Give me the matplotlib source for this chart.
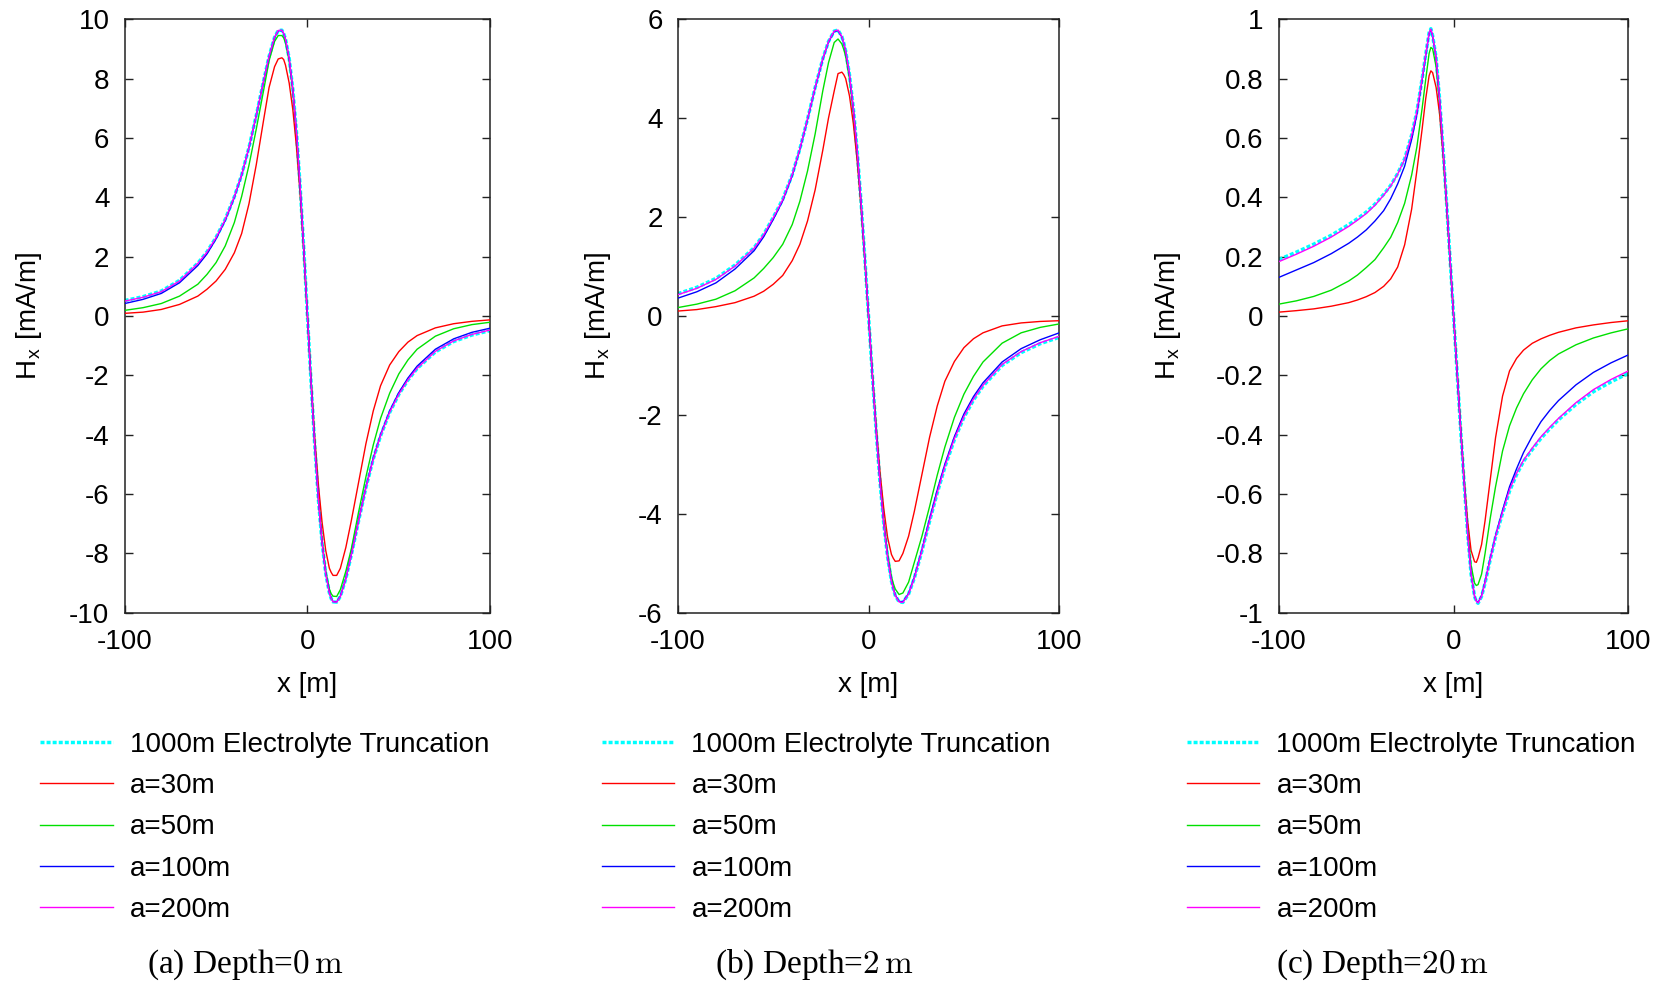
import matplotlib
matplotlib.use("Agg")
import matplotlib.pyplot as plt
from matplotlib.ticker import FixedLocator, FuncFormatter

plt.rcParams["font.family"] = ["Liberation Sans", "DejaVu Sans"]
plt.rcParams["mathtext.fontset"] = "cm"
plt.rcParams["axes.unicode_minus"] = False

# Horizontal positions along the profile [m]
x_m = [-100, -90, -80, -70, -60, -55, -50, -45, -40, -36, -32, -28, -24, -21, -18, -16, -14, -13,
       -12, -10, -8, -6, -4, -2, 0, 2, 4, 6, 8, 10, 12, 13, 14, 16, 18, 21, 24, 28, 32, 36, 40,
       45, 50, 55, 60, 70, 80, 90, 100]

series_labels = ["1000m Electrolyte Truncation", "a=30m", "a=50m", "a=100m", "a=200m"]

# Depth = 0 m
hx_d0_ref = [0.52, 0.65, 0.84, 1.2, 1.78, 2.16, 2.65, 3.26, 4.02, 4.76, 5.68, 6.76, 7.92, 8.75,
             9.39, 9.62, 9.63, 9.52, 9.33, 8.68, 7.64, 6.19, 4.37, 2.26, 0.0, -2.26, -4.37, -6.19,
             -7.64, -8.68, -9.33, -9.52, -9.63, -9.64, -9.45, -8.85, -8.05, -6.9, -5.78, -4.82,
             -4.04, -3.25, -2.64, -2.16, -1.77, -1.21, -0.86, -0.64, -0.49]
hx_d0_a30 = [0.09, 0.13, 0.22, 0.39, 0.67, 0.90, 1.18, 1.57, 2.13, 2.78, 3.78, 5.1, 6.6, 7.7, 8.4,
             8.66, 8.7, 8.64, 8.45, 7.85, 6.95, 5.7, 4.1, 2.15, 0.0, -2.15, -4.1, -5.7, -6.95, -7.9,
             -8.5, -8.64, -8.74, -8.74, -8.5, -7.8, -6.9, -5.6, -4.3, -3.2, -2.35, -1.65, -1.2,
             -0.88, -0.66, -0.4, -0.26, -0.18, -0.13]
hx_d0_a50 = [0.19, 0.28, 0.42, 0.67, 1.07, 1.40, 1.80, 2.36, 3.15, 4.03, 5.08, 6.3, 7.6, 8.6, 9.25,
             9.45, 9.45, 9.37, 9.2, 8.6, 7.58, 6.15, 4.35, 2.25, 0.0, -2.25, -4.35, -6.15, -7.58,
             -8.6, -9.2, -9.36, -9.44, -9.45, -9.22, -8.6, -7.85, -6.6, -5.42, -4.35, -3.45, -2.6,
             -1.95, -1.48, -1.12, -0.68, -0.43, -0.29, -0.21]
hx_d0_a100 = [0.42, 0.56, 0.76, 1.12, 1.70, 2.09, 2.6, 3.22, 4.0, 4.75, 5.67, 6.75, 7.91, 8.74,
              9.38, 9.61, 9.62, 9.51, 9.32, 8.67, 7.63, 6.18, 4.36, 2.26, 0.0, -2.26, -4.36, -6.18,
              -7.63, -8.67, -9.32, -9.51, -9.62, -9.63, -9.44, -8.84, -8.04, -6.88, -5.76, -4.79,
              -4.0, -3.2, -2.58, -2.09, -1.69, -1.12, -0.77, -0.55, -0.41]
hx_d0_a200 = [0.50, 0.63, 0.82, 1.18, 1.77, 2.15, 2.64, 3.25, 4.02, 4.76, 5.68, 6.76, 7.92, 8.75,
              9.39, 9.62, 9.63, 9.52, 9.33, 8.68, 7.64, 6.19, 4.37, 2.26, 0.0, -2.26, -4.37, -6.19,
              -7.64, -8.68, -9.33, -9.52, -9.63, -9.64, -9.45, -8.85, -8.05, -6.9, -5.78, -4.82,
              -4.03, -3.24, -2.63, -2.15, -1.76, -1.19, -0.84, -0.62, -0.47]

# Depth = 2 m
hx_d2_ref = [0.45, 0.58, 0.76, 1.03, 1.38, 1.65, 1.99, 2.36, 2.86, 3.38, 3.98, 4.62, 5.2, 5.55,
             5.76, 5.78, 5.65, 5.52, 5.36, 4.88, 4.21, 3.36, 2.34, 1.2, 0.0, -1.2, -2.34, -3.36,
             -4.21, -4.88, -5.36, -5.52, -5.65, -5.78, -5.79, -5.62, -5.3, -4.75, -4.15, -3.58,
             -3.06, -2.5, -2.05, -1.7, -1.42, -1.0, -0.74, -0.56, -0.43]
hx_d2_a30 = [0.10, 0.13, 0.19, 0.27, 0.40, 0.50, 0.64, 0.82, 1.12, 1.45, 1.92, 2.55, 3.35, 4.0,
             4.55, 4.9, 4.93, 4.88, 4.8, 4.45, 3.9, 3.15, 2.22, 1.15, 0.0, -1.15, -2.22, -3.15,
             -3.9, -4.48, -4.82, -4.9, -4.96, -4.95, -4.8, -4.45, -3.95, -3.2, -2.45, -1.82,
             -1.32, -0.92, -0.64, -0.46, -0.34, -0.2, -0.14, -0.11, -0.095]
hx_d2_a50 = [0.17, 0.24, 0.34, 0.51, 0.77, 0.96, 1.18, 1.45, 1.85, 2.32, 2.93, 3.68, 4.55, 5.12,
             5.53, 5.6, 5.5, 5.39, 5.25, 4.8, 4.16, 3.33, 2.32, 1.19, 0.0, -1.19, -2.32, -3.33,
             -4.16, -4.8, -5.27, -5.41, -5.52, -5.63, -5.6, -5.38, -4.98, -4.45, -3.85, -3.22,
             -2.65, -2.05, -1.58, -1.22, -0.93, -0.55, -0.34, -0.23, -0.16]
hx_d2_a100 = [0.36, 0.49, 0.67, 0.95, 1.32, 1.6, 1.95, 2.33, 2.84, 3.37, 3.97, 4.61, 5.19, 5.54,
              5.75, 5.77, 5.64, 5.51, 5.35, 4.87, 4.2, 3.35, 2.33, 1.2, 0.0, -1.2, -2.33, -3.35,
              -4.2, -4.87, -5.35, -5.51, -5.64, -5.77, -5.78, -5.61, -5.28, -4.72, -4.1, -3.52,
              -3.0, -2.44, -1.98, -1.63, -1.35, -0.93, -0.66, -0.48, -0.34]
hx_d2_a200 = [0.43, 0.56, 0.74, 1.01, 1.37, 1.64, 1.98, 2.35, 2.86, 3.38, 3.98, 4.62, 5.2, 5.55,
              5.76, 5.78, 5.65, 5.52, 5.36, 4.88, 4.21, 3.36, 2.34, 1.2, 0.0, -1.2, -2.34, -3.36,
              -4.21, -4.88, -5.36, -5.52, -5.65, -5.78, -5.79, -5.62, -5.3, -4.74, -4.14, -3.57,
              -3.04, -2.48, -2.03, -1.68, -1.4, -0.98, -0.72, -0.54, -0.41]

# Depth = 20 m
hx_d20_ref = [0.19, 0.215, 0.242, 0.272, 0.308, 0.328, 0.35, 0.377, 0.41, 0.44, 0.48, 0.53, 0.61,
              0.69, 0.8, 0.88, 0.955, 0.968, 0.945, 0.87, 0.73, 0.56, 0.38, 0.19, 0.0, -0.19,
              -0.38, -0.56, -0.73, -0.87, -0.945, -0.962, -0.968, -0.945, -0.9, -0.82, -0.745,
              -0.665, -0.59, -0.535, -0.49, -0.45, -0.412, -0.38, -0.35, -0.298, -0.255, -0.222,
              -0.193]
hx_d20_a30 = [0.013, 0.018, 0.024, 0.033, 0.045, 0.054, 0.065, 0.079, 0.1, 0.125, 0.165, 0.24,
              0.36, 0.49, 0.63, 0.73, 0.81, 0.826, 0.82, 0.77, 0.68, 0.54, 0.37, 0.185, 0.0,
              -0.185, -0.37, -0.545, -0.69, -0.79, -0.828, -0.83, -0.815, -0.77, -0.69, -0.55,
              -0.41, -0.27, -0.185, -0.143, -0.115, -0.092, -0.077, -0.065, -0.055, -0.04, -0.03,
              -0.022, -0.016]
hx_d20_a50 = [0.04, 0.051, 0.066, 0.087, 0.118, 0.138, 0.163, 0.19, 0.23, 0.265, 0.315, 0.38,
              0.475, 0.57, 0.7, 0.795, 0.885, 0.905, 0.9, 0.84, 0.72, 0.555, 0.378, 0.19, 0.0,
              -0.19, -0.378, -0.555, -0.72, -0.84, -0.9, -0.908, -0.905, -0.87, -0.8, -0.68,
              -0.575, -0.455, -0.37, -0.31, -0.262, -0.215, -0.178, -0.15, -0.128, -0.097, -0.074,
              -0.057, -0.043]
hx_d20_a100 = [0.13, 0.155, 0.18, 0.21, 0.245, 0.266, 0.29, 0.32, 0.355, 0.395, 0.445, 0.505,
               0.595, 0.68, 0.795, 0.875, 0.952, 0.965, 0.943, 0.87, 0.73, 0.56, 0.38, 0.19, 0.0,
               -0.19, -0.38, -0.56, -0.73, -0.87, -0.944, -0.96, -0.965, -0.942, -0.895, -0.815,
               -0.74, -0.655, -0.575, -0.515, -0.46, -0.405, -0.356, -0.318, -0.285, -0.232,
               -0.19, -0.158, -0.131]
hx_d20_a200 = [0.183, 0.208, 0.235, 0.266, 0.302, 0.323, 0.345, 0.373, 0.407, 0.438, 0.478, 0.528,
               0.608, 0.689, 0.8, 0.88, 0.954, 0.967, 0.944, 0.87, 0.73, 0.56, 0.38, 0.19, 0.0,
               -0.19, -0.38, -0.56, -0.73, -0.87, -0.944, -0.961, -0.967, -0.944, -0.898, -0.818,
               -0.742, -0.661, -0.585, -0.53, -0.486, -0.445, -0.407, -0.375, -0.345, -0.292,
               -0.248, -0.214, -0.185]

x_ticks = [-100, 0, 100]
y_ticks_d0 = [-10, -8, -6, -4, -2, 0, 2, 4, 6, 8, 10]
y_ticks_d2 = [-6, -4, -2, 0, 2, 4, 6]
y_ticks_d20 = [-1, -0.8, -0.6, -0.4, -0.2, 0, 0.2, 0.4, 0.6, 0.8, 1]
captions = ["(a) Depth=", "(b) Depth=", "(c) Depth="]
depth_text = [r"$0\,\mathrm{m}$", r"$2\,\mathrm{m}$", r"$20\,\mathrm{m}$"]

W, H = 1671, 983
fig = plt.figure(figsize=(W / 100, H / 100), dpi=100)

panels = [
    dict(box=(124.7, 490.2), data=[hx_d0_ref, hx_d0_a30, hx_d0_a50, hx_d0_a100, hx_d0_a200],
         yticks=y_ticks_d0, ylab_x=-0.222, leg_x=-0.2304, cap_x=245),
    dict(box=(677.8, 1059.3), data=[hx_d2_ref, hx_d2_a30, hx_d2_a50, hx_d2_a100, hx_d2_a200],
         yticks=y_ticks_d2, ylab_x=-0.170, leg_x=-0.1987, cap_x=814),
    dict(box=(1278.8, 1628.4), data=[hx_d20_ref, hx_d20_a30, hx_d20_a50, hx_d20_a100, hx_d20_a200],
         yticks=y_ticks_d20, ylab_x=-0.274, leg_x=-0.2626, cap_x=1383),
]

top_px, bot_px = 19.2, 612.8
colors = ["#00ffff", "#ff0000", "#00e000", "#0000ff", "#ff00ff"]
FS = 20


def fmt(v, pos):
    s = f"{v:.1f}".rstrip("0").rstrip(".")
    return "0" if s in ("-0", "0") else s


for i, p in enumerate(panels):
    l, r = p["box"]
    ax = fig.add_axes([l / W, 1 - bot_px / H, (r - l) / W, (bot_px - top_px) / H])
    handles = []
    for k, (vals, c) in enumerate(zip(p["data"], colors)):
        if k == 0:
            h, = ax.plot(x_m, vals, color=c, lw=2.5, linestyle=(0, (1.15, 0.6)),
                         dash_capstyle="butt", zorder=2)
        else:
            h, = ax.plot(x_m, vals, color=c, lw=1.0, zorder=2 + k)
        handles.append(h)
    yt = p["yticks"]
    ax.set_xlim(-100, 100)
    ax.set_ylim(yt[0], yt[-1])
    ax.xaxis.set_major_locator(FixedLocator(x_ticks))
    ax.yaxis.set_major_locator(FixedLocator(yt))
    ax.yaxis.set_major_formatter(FuncFormatter(fmt))
    ax.tick_params(direction="in", length=6, width=1.0, top=True, right=True,
                   labelsize=FS, colors="#222222", labelcolor="black")
    ax.tick_params(axis="x", pad=12)
    ax.tick_params(axis="y", pad=11)
    for s in ax.spines.values():
        s.set_linewidth(1.1)
        s.set_color("#222222")
    ax.set_xlabel("x [m]", fontsize=FS)
    ax.xaxis.set_label_coords(0.5, -0.1)
    ax.set_ylabel(r"H$_\mathregular{x}$ [mA/m]", fontsize=FS)
    ax.yaxis.set_label_coords(p["ylab_x"], 0.5)
    ax.legend(handles, series_labels, loc="upper left", bbox_to_anchor=(p["leg_x"], -0.2),
              frameon=False, fontsize=FS, handlelength=2.61, handletextpad=0.61,
              labelspacing=0.555, borderpad=0, borderaxespad=0)
    fig.text(p["cap_x"] / W, 1 - 965 / H, captions[i] + depth_text[i], ha="center",
             va="center", fontsize=24, family=["Liberation Serif", "DejaVu Serif"])

fig.savefig("out.png", dpi=100)
